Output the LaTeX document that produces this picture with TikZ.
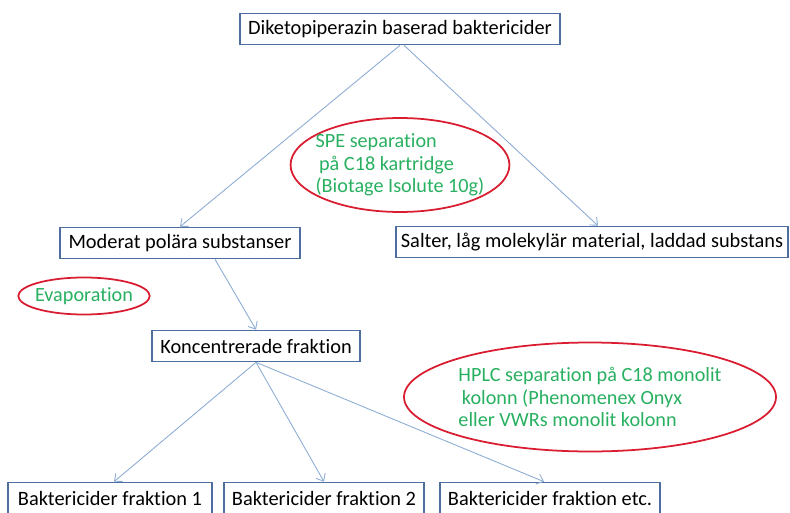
\documentclass[tikz,border=0pt]{standalone}
\usepackage{fontspec}
\setmainfont{Carlito}[Ligatures={NoCommon,NoContextual}]
\usetikzlibrary{arrows.meta,shapes.geometric,calc}
\definecolor{boxblue}{RGB}{79,110,160}
\definecolor{lineblue}{RGB}{140,172,212}
\definecolor{ellred}{RGB}{218,28,48}
\definecolor{txtgreen}{RGB}{40,176,96}
\tikzset{
	stegbox/.style={draw=boxblue, line width=0.9pt, fill=white, minimum height=0.62cm, inner sep=2pt, font=\fontsize{11.6}{13}\selectfont},
	metod/.style={ellipse, draw=ellred, line width=1pt, text=txtgreen, align=left, inner sep=0pt, font=\fontsize{11.5}{12.8}\selectfont},
	flode/.style={lineblue, line width=0.5pt, ->}
}
\begin{document}
\begin{tikzpicture}[x=0.02cm, y=-0.02cm, >={Straight Barb[length=3.5pt,width=6pt]}]
			
			\useasboundingbox (0,0) rectangle (790,513);
			
			% boxes
			\node[stegbox, minimum width=6.4cm] (top) at (400,29) {Diketopiperazin baserad baktericider};
			\node[stegbox, minimum width=4.8cm] (moderat) at (180,243) {Moderat polära substanser};
			\node[stegbox, minimum width=7.84cm] (salter) at (592,242) {Salter, låg molekylär material, laddad substans};
			\node[stegbox, minimum width=4.16cm] (konc) at (256,346) {Koncentrerade fraktion};
			\node[stegbox, minimum width=4.08cm] (frak1) at (110,498) {Baktericider fraktion 1};
			\node[stegbox, minimum width=4.0cm] (frak2) at (324,498) {Baktericider fraktion 2};
			\node[stegbox, minimum width=4.4cm] (frak3) at (550,498) {Baktericider fraktion etc.};
			
			% arrows
			\draw[flode] (top.south) -- (moderat.north);
			\draw[flode] ($(top.south)+(4,0)$) -- ($(salter.north)+(6,0)$);
			\draw[flode] ($(moderat.south)+(35,0)$) -- (konc.north);
			\draw[flode] (konc.south) -- ($(frak1.north)+(4,0)$);
			\draw[flode] (konc.south) -- (frak2.north);
			\draw[flode] (konc.south) -- ($(frak3.north)+(-6,0)$);
			
			% methods
			\node[metod, inner xsep=-0.14cm, minimum height=1.88cm] (spe) at (400,165) {SPE separation\\\hspace{2pt}på C18 kartridge\\(Biotage Isolute 10g)};
			\node[metod, inner xsep=-0.05cm, minimum height=0.74cm] (evap) at (84,296) {Evaporation};
			\node[metod, minimum width=7.4cm, minimum height=2.18cm] (hplc) at (590,397) {HPLC separation på C18 monolit\hspace{0.6cm}\\\hspace{2pt}kolonn (Phenomenex Onyx\\eller VWRs monolit kolonn};
			
	\end{tikzpicture}
\end{document}
